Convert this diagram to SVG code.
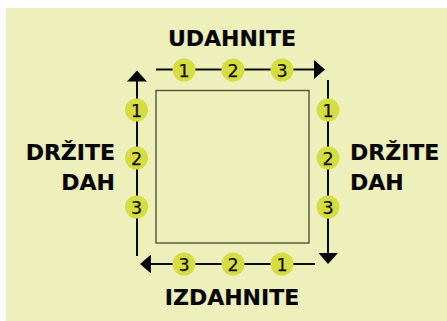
<svg xmlns="http://www.w3.org/2000/svg" width="447" height="321" viewBox="0 0 447 321">
<style>
.l{font-family:"DejaVu Sans",Verdana,sans-serif;font-weight:700;font-size:22px;fill:#050505;stroke:#050505;stroke-width:.2}
.n{font-family:"DejaVu Sans",sans-serif;font-size:17.500px;fill:#111;stroke:#111;stroke-width:.25;text-anchor:middle}
.d{fill:#d5dd42}
.c{stroke:#0a0a0a;stroke-width:2;fill:none}
</style>
<defs>
<g id="b"><circle class="d" r="11.500"/></g>
</defs>
<rect width="447" height="321" fill="#fff"/>
<rect x="6" y="8" width="441" height="313" fill="#edf0bb"/>
<rect id="square" x="156" y="90.500" width="153" height="152.500" fill="none" stroke="#4f5238" stroke-width="1.400"/>
<g id="connectors">
<path class="c" d="M156 69.500H316"/><polygon points="314,60 325,69.500 314,79" fill="#050505"/>
<path class="c" d="M328 80V254"/><polygon points="318.500,253 338,253 328,264" fill="#050505"/>
<path class="c" d="M315 264H150"/><polygon points="151,254.500 140,264 151,273.500" fill="#050505"/>
<path class="c" d="M137 256V80"/><polygon points="127,81.500 147,81.500 137,70.500" fill="#050505"/>
</g>
<g id="top-1"><use href="#b" x="184" y="70"/><text class="n" x="184" y="76.500">1</text></g>
<g id="top-2"><use href="#b" x="233" y="70"/><text class="n" x="233" y="76.500">2</text></g>
<g id="top-3"><use href="#b" x="282" y="70"/><text class="n" x="282" y="76.500">3</text></g>
<g id="right-1"><use href="#b" x="328" y="110"/><text class="n" x="328" y="116.500">1</text></g>
<g id="right-2"><use href="#b" x="328" y="158"/><text class="n" x="328" y="164.500">2</text></g>
<g id="right-3"><use href="#b" x="328" y="207"/><text class="n" x="328" y="213.500">3</text></g>
<g id="bottom-3"><use href="#b" x="184" y="264"/><text class="n" x="184" y="270.500">3</text></g>
<g id="bottom-2"><use href="#b" x="233" y="264"/><text class="n" x="233" y="270.500">2</text></g>
<g id="bottom-1"><use href="#b" x="282" y="264"/><text class="n" x="282" y="270.500">1</text></g>
<g id="left-1"><use href="#b" x="136.500" y="110"/><text class="n" x="136.500" y="116.500">1</text></g>
<g id="left-2"><use href="#b" x="136.500" y="158"/><text class="n" x="136.500" y="164.500">2</text></g>
<g id="left-3"><use href="#b" x="136.500" y="207"/><text class="n" x="136.500" y="213.500">3</text></g>
<g id="label-top"><text class="l" x="232" y="46" text-anchor="middle">UDAHNITE</text></g>
<g id="label-bottom"><text class="l" x="232" y="305" text-anchor="middle">IZDAHNITE</text></g>
<g id="label-left"><text class="l" x="115" y="160" text-anchor="end">DRŽITE</text><text class="l" x="115" y="190" text-anchor="end">DAH</text></g>
<g id="label-right"><text class="l" x="350" y="159.500">DRŽITE</text><text class="l" x="350" y="190">DAH</text></g>
</svg>
